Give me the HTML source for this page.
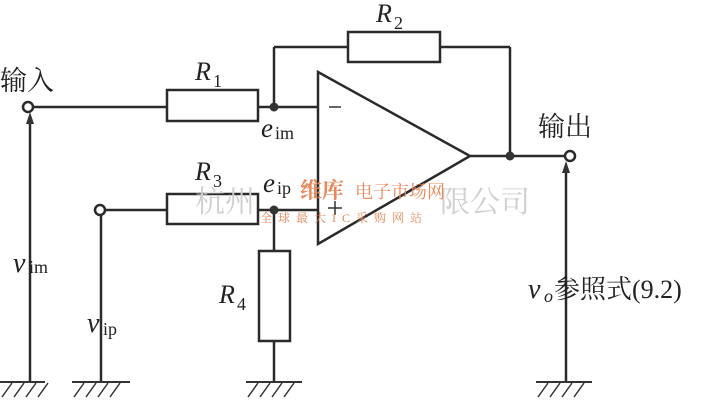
<!DOCTYPE html>
<html><head><meta charset="utf-8"><style>
html,body{margin:0;padding:0;background:#fff;}
svg{display:block}
text{font-family:"Liberation Serif","Noto Serif CJK SC",serif;fill:#222}
</style></head><body>
<svg width="710" height="401" viewBox="0 0 710 401" xmlns="http://www.w3.org/2000/svg">
<g stroke="#2a2a2a" stroke-width="2.5" fill="none">
<circle cx="28" cy="107" r="5" fill="#fff"/>
<line x1="33" y1="107" x2="166" y2="107"/>
<rect x="167" y="90" width="91" height="31"/>
<line x1="258" y1="107" x2="318" y2="107"/>
<line x1="274" y1="107" x2="274" y2="47"/>
<line x1="274" y1="47" x2="348" y2="47"/>
<rect x="348" y="32" width="92" height="30"/>
<line x1="440" y1="47" x2="510" y2="47"/>
<line x1="510" y1="47" x2="510" y2="156"/>
<polygon points="318,72 318,244 470,156"/>
<line x1="470" y1="156" x2="565" y2="156"/>
<circle cx="570" cy="156" r="5" fill="#fff"/>
<circle cx="100" cy="210" r="5" fill="#fff"/>
<line x1="105" y1="210" x2="167" y2="210"/>
<rect x="167" y="194" width="91" height="30"/>
<line x1="258" y1="210" x2="318" y2="210"/>
<line x1="274" y1="210" x2="274" y2="251"/>
<rect x="259" y="251" width="31" height="90"/>
<line x1="274" y1="341" x2="274" y2="381"/>
<line x1="30" y1="120" x2="30" y2="381"/>
<line x1="101" y1="215" x2="101" y2="381"/>
<line x1="566" y1="168" x2="566" y2="381"/>
</g>
<g stroke="#333" stroke-width="1.5">
<line x1="329" y1="107" x2="341" y2="107"/>
<line x1="328" y1="208" x2="342" y2="208"/>
<line x1="335" y1="201" x2="335" y2="215"/>
</g>
<polygon points="30,112 26,124 34,124" fill="#333"/>
<polygon points="566,161 562,173 570,173" fill="#333"/>
<circle cx="274" cy="107" r="4.5" fill="#333"/>
<circle cx="510" cy="156" r="4.5" fill="#333"/>
<circle cx="274" cy="210" r="4.5" fill="#333"/>
<g stroke="#333" stroke-width="2">
<line x1="0" y1="382" x2="45" y2="382"/>
<line x1="72" y1="382" x2="130" y2="382"/>
<line x1="246" y1="382" x2="302" y2="382"/>
<line x1="536" y1="382" x2="592" y2="382"/>
</g>
<g stroke="#333" stroke-width="1.5">
<path d="M12 383 L2 397 M24 383 L14 397 M36 383 L26 397 M48 383 L38 397"/>
<path d="M84 383 L74 397 M96 383 L86 397 M108 383 L98 397 M120 383 L110 397"/>
<path d="M258 383 L248 397 M270 383 L260 397 M282 383 L272 397 M294 383 L284 397"/>
<path d="M548 383 L538 397 M560 383 L550 397 M572 383 L562 397 M584 383 L574 397"/>
</g>
<text x="195" y="212" font-size="30" style="fill:#cfcfcf">杭州</text>
<text x="440" y="212" font-size="30" style="fill:#cfcfcf">限公司</text>
<text x="300" y="198" font-size="22" font-weight="bold" style="fill:#e8875a">维库</text>
<text x="355" y="198" font-size="18" style="fill:#e8875a">电子市场网</text>
<text x="260" y="222" font-size="12" style="fill:#e8875a" letter-spacing="6">全球最大IC采购网站</text>
<text x="0" y="90" font-size="27">输入</text>
<text x="195" y="80" font-size="26" font-style="italic">R</text><text x="213" y="87" font-size="18">1</text>
<text x="376" y="22" font-size="26" font-style="italic">R</text><text x="394" y="29" font-size="18">2</text>
<text x="195" y="180" font-size="26" font-style="italic">R</text><text x="213" y="187" font-size="18">3</text>
<text x="219" y="303" font-size="26" font-style="italic">R</text><text x="237" y="310" font-size="18">4</text>
<text x="261" y="137" font-size="27" font-style="italic">e</text><text x="275" y="139" font-size="18">im</text>
<text x="263" y="192" font-size="27" font-style="italic">e</text><text x="277" y="194" font-size="18">ip</text>
<text x="538" y="136" font-size="27">输出</text>
<text x="13" y="272" font-size="28" font-style="italic">v</text><text x="29" y="273" font-size="18">im</text>
<text x="87" y="332" font-size="28" font-style="italic">v</text><text x="103" y="335" font-size="18">ip</text>
<text x="528" y="298" font-size="28" font-style="italic">v</text><text x="544" y="302" font-size="18" font-style="italic">o</text>
<text x="554" y="298" font-size="26">参照式(9.2)</text>
</svg>
</body></html>
